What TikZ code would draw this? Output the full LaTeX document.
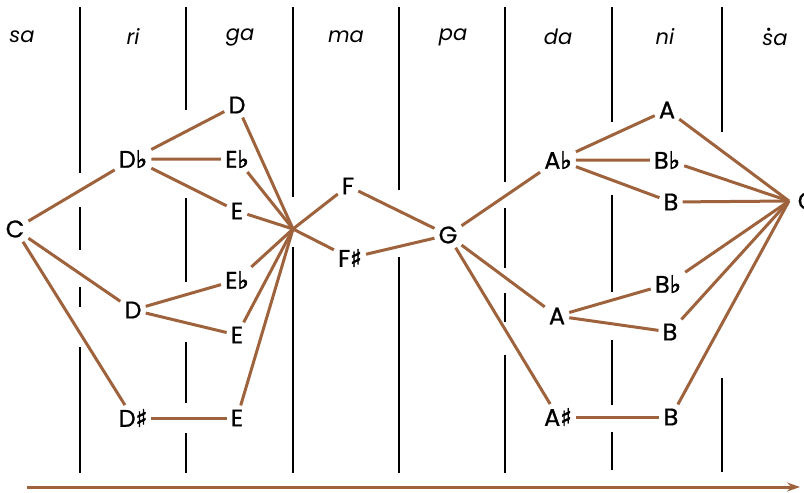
\documentclass[tikz,border=0pt]{standalone}
\usepackage{fontspec}
\setmainfont{Poppins}
\newfontfamily\notefont{Poppins}[FakeBold=0.8]
\newfontfamily\djv{DejaVu Sans}[FakeBold=2.5]
\usetikzlibrary{arrows.meta}
\definecolor{brn}{RGB}{158,98,60}
\newcommand{\myflat}{{\djv ♭}}
\newcommand{\mysharp}{{\djv ♯}}
\newcommand{\sdot}{\leavevmode\rlap{\hspace{0.16em}\raisebox{0.62em}{{\djv\upshape\fontsize{10}{10}\selectfont •}}}s}
\begin{document}
\begin{tikzpicture}[x=1pt,y=-1pt,
  note/.style={font=\notefont\fontsize{24}{26}\selectfont, inner sep=4pt, text=black},
  svara/.style={font=\fontsize{21}{23}\selectfont\itshape, inner sep=2pt},
  link/.style={draw=brn, line width=3pt},
  bar/.style={draw=black, line width=1.9pt}]
\useasboundingbox (0,0) rectangle (804,493);
% vertical bars
\draw[bar] (80,7)--(80,173) (80,207)--(80,250) (80,287)--(80,307) (80,347)--(80,473);
\draw[bar] (186,7)--(186,110) (186,198)--(186,282) (186,342)--(186,403) (186,433)--(186,473);
\draw[bar] (293,7)--(293,197) (293,247)--(293,473);
\draw[bar] (399,7)--(399,190) (399,257)--(399,473);
\draw[bar] (505,7)--(505,182) (505,208)--(505,268) (505,293)--(505,322) (505,355)--(505,473);
\draw[bar] (612,7)--(612,122) (612,195)--(612,292) (612,340)--(612,405) (612,432)--(612,470);
\draw[bar] (722,7)--(722,132) (722,378)--(722,472);
% headers
\node[svara] (hsa) at (22,37) {sa};
\node[svara] (hri) at (133,37) {ri};
\node[svara] (hga) at (240,37) {ga};
\node[svara] (hma) at (346,37) {ma};
\node[svara] (hpa) at (453,37) {pa};
\node[svara] (hda) at (558,37) {da};
\node[svara] (hni) at (665,37) {ni};
\node[svara] (hsa2) at (775,37) {\sdot a};
% notes
\node[note] (Cl) at (15,229) {C};
\node[note] (Db) at (133,159) {D\myflat};
\node[note] (Dm) at (133,310) {D};
\node[note] (Ds) at (133,418) {D\mysharp};
\node[note] (Dt) at (237,105) {D};
\node[note] (Eb1) at (237,159) {E\myflat};
\node[note] (E1) at (237,211) {E};
\node[note] (Eb2) at (237,280) {E\myflat};
\node[note] (E2) at (237,335) {E};
\node[note] (E3) at (237,418) {E};
\node[note] (F) at (348,186) {F};
\node[note] (Fs) at (350,258) {F\mysharp};
\node[note] (G) at (448,235) {G};
\node[note] (Ab) at (558,160) {A\myflat};
\node[note] (A2) at (557,316) {A};
\node[note] (As) at (558,417) {A\mysharp};
\node[note] (A1) at (667,110) {A};
\node[note] (Bb1) at (667,160) {B\myflat};
\node[note] (B1) at (671,202) {B};
\node[note] (Bb2) at (668,284) {B\myflat};
\node[note] (B2) at (670,332) {B};
\node[note] (B3) at (671,417) {B};
\node[note] (Cr) at (807,201) {C};
\coordinate (h1) at (293,229);
\coordinate (h2) at (789,201);
% links
\draw[link] (Cl)--(Db) (Cl)--(Dm) (Cl)--(Ds);
\draw[link] (Db)--(Dt) (Db)--(Eb1) (Db)--(E1);
\draw[link] (Dm)--(Eb2) (Dm)--(E2);
\draw[link] (Ds)--(E3);
\foreach \n in {Dt,Eb1,E1,Eb2,E2,E3} \draw[link] (\n)--(h1);
\draw[link] (h1)--(F) (h1)--(Fs);
\draw[link] (F)--(G) (Fs)--(G);
\draw[link] (G)--(Ab) (G)--(A2) (G)--(As);
\draw[link] (Ab)--(A1) (Ab)--(Bb1) (Ab)--(B1);
\draw[link] (A2)--(Bb2) (A2)--(B2);
\draw[link] (As)--(B3);
\foreach \n in {A1,Bb1,B1,Bb2,B2,B3} \draw[link] (\n)--(h2);
% time arrow
\coordinate (t0) at (27,487);
\coordinate (t1) at (800,487);
\draw[link, -{Stealth[length=13pt,width=9pt]}] (t0)--(t1);
\end{tikzpicture}
\end{document}
